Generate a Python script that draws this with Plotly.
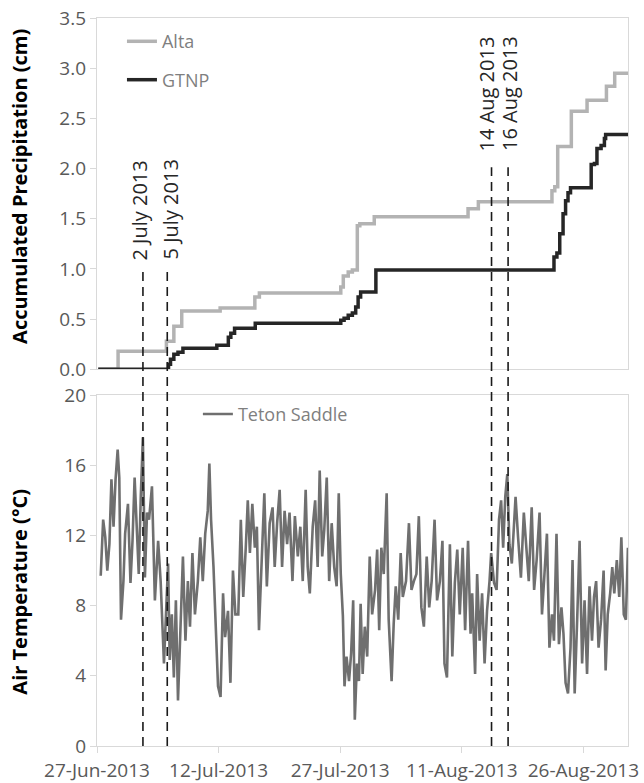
import pandas as pd
import plotly.graph_objects as go

# ---------------- data ----------------
start_date = "2013-06-27"
end_day = 65.5

alta_days = [0.15, 2.6, 8.56, 9.48, 10.45, 15.19, 19.47, 20.03, 30.07, 30.38, 30.99, 31.50,
             32.11, 32.42, 34.20, 45.77, 47.04, 56.12, 56.47, 56.83, 58.51, 60.45, 62.84, 63.86, 65.5]
alta_values = [0, 0.18, 0.28, 0.43, 0.58, 0.61, 0.72, 0.76, 0.82, 0.93, 0.97, 0.99,
               1.43, 1.45, 1.52, 1.60, 1.67, 1.78, 1.82, 2.22, 2.57, 2.68, 2.82, 2.95, 2.95]

gtnp_days = [0.15, 8.56, 8.82, 9.07, 9.48, 9.99, 10.60, 14.78, 16.20, 16.51, 16.97, 19.52,
             30.07, 30.48, 30.99, 31.50, 31.91, 32.21, 32.52, 34.40, 56.37, 56.73, 57.08,
             57.49, 57.80, 58.10, 58.41, 60.96, 61.36, 61.67, 62.18, 62.59, 62.74, 65.5]
gtnp_values = [0, 0, 0.05, 0.10, 0.15, 0.17, 0.21, 0.24, 0.32, 0.36, 0.41, 0.46,
               0.49, 0.51, 0.54, 0.56, 0.62, 0.72, 0.77, 0.99, 1.12, 1.16, 1.35,
               1.55, 1.68, 1.76, 1.81, 2.04, 2.05, 2.20, 2.23, 2.30, 2.34, 2.34]

temp_days = [0.46, 0.76, 1.02, 1.27, 1.53, 1.78, 2.04, 2.29, 2.55, 2.75, 2.96, 3.26, 3.47, 3.82,
             4.13, 4.38, 4.64, 4.89, 5.15, 5.40, 5.66, 5.91, 6.17, 6.42, 6.78, 7.14, 7.54, 7.85,
             8.26, 8.51, 8.77, 8.97, 9.23, 9.48, 9.73, 9.99, 10.24, 10.60, 10.91, 11.21, 11.47,
             11.77, 12.08, 12.44, 12.74, 13.05, 13.35, 13.66, 13.86, 14.07, 14.37, 14.68, 14.93,
             15.24, 15.55, 15.80, 16.16, 16.46, 16.77, 17.07, 17.43, 17.74, 18.04, 18.35, 18.60,
             18.86, 19.16, 19.47, 19.72, 19.98, 20.29, 20.64, 20.95, 21.30, 21.66, 21.92, 22.22,
             22.53, 22.83, 23.14, 23.45, 23.75, 24.11, 24.41, 24.77, 25.08, 25.38, 25.74, 25.99,
             26.25, 26.61, 26.91, 27.22, 27.47, 27.78, 28.03, 28.34, 28.64, 28.95, 29.26, 29.56,
             29.82, 30.07, 30.33, 30.53, 30.78, 31.09, 31.35, 31.60, 31.80, 32.06, 32.31, 32.52,
             32.77, 33.03, 33.33, 33.64, 33.94, 34.30, 34.56, 34.81, 35.07, 35.37, 35.73, 35.98,
             36.34, 36.60, 36.85, 37.16, 37.46, 37.72, 38.12, 38.48, 38.79, 39.09, 39.40, 39.70,
             40.01, 40.32, 40.67, 40.98, 41.28, 41.64, 41.95, 42.30, 42.61, 42.86, 43.17, 43.53,
             43.83, 44.14, 44.44, 44.75, 45.11, 45.41, 45.77, 46.08, 46.28, 46.64, 46.89, 47.20,
             47.50, 47.81, 48.11, 48.42, 48.62, 48.98, 49.29, 49.59, 49.85, 50.10, 50.36, 50.61,
             50.87, 51.17, 51.38, 51.63, 51.94, 52.29, 52.65, 52.96, 53.26, 53.62, 53.92, 54.23,
             54.59, 54.89, 55.20, 55.50, 55.81, 56.12, 56.37, 56.68, 56.98, 57.29, 57.54, 57.80,
             58.10, 58.41, 58.66, 58.92, 59.23, 59.53, 59.84, 60.14, 60.45, 60.75, 61.06, 61.31,
             61.57, 61.87, 62.18, 62.49, 62.74, 63.00, 63.30, 63.56, 63.81, 64.12, 64.42, 64.68,
             64.98, 65.24, 65.49, 65.70, 65.85]
temp_values = [9.7, 12.9, 11.9, 10.0, 11.5, 15.2, 12.5, 15.2, 16.9, 15.3, 7.2, 9.4, 12.1, 13.8,
               9.3, 11.7, 15.3, 12.3, 9.8, 14.2, 17.6, 9.6, 13.3, 12.9, 14.8, 8.3, 11.7, 9.4,
               4.7, 7.5, 10.4, 4.9, 7.5, 3.9, 8.3, 2.6, 6.0, 10.8, 6.0, 9.4, 6.8,
               11.0, 7.5, 9.4, 11.9, 9.4, 12.1, 13.4, 16.1, 12.9, 10.2, 6.0, 3.4,
               2.8, 8.7, 6.2, 7.7, 3.6, 10.0, 7.5, 7.5, 12.9, 8.5, 11.3, 14.0,
               11.0, 13.8, 11.3, 12.5, 6.6, 10.2, 14.4, 9.1, 12.7, 13.6, 10.2, 12.7,
               14.6, 10.2, 13.4, 11.5, 13.3, 9.4, 13.1, 10.8, 12.5, 9.4, 14.6, 10.2,
               8.7, 12.5, 14.0, 10.2, 15.7, 10.8, 12.3, 15.3, 9.4, 12.7, 10.2, 9.1,
               14.4, 9.8, 7.4, 3.4, 5.1, 3.7, 5.3, 8.3, 1.5, 4.7, 3.7, 8.1,
               4.1, 6.8, 5.1, 10.8, 7.5, 8.9, 11.2, 6.6, 11.3, 9.8, 14.4, 7.2,
               3.7, 7.0, 9.1, 7.2, 11.0, 8.5, 9.4, 12.7, 8.9, 9.4, 9.8, 13.1,
               7.9, 6.8, 10.8, 7.9, 9.4, 12.9, 8.3, 9.4, 11.7, 4.7, 3.9, 11.5,
               5.1, 9.3, 11.2, 7.5, 11.3, 6.6, 11.7, 6.4, 8.7, 4.1, 9.8, 6.0,
               8.7, 4.7, 7.7, 9.4, 11.0, 9.3, 8.9, 12.9, 14.0, 11.3, 14.2, 15.5,
               11.5, 10.4, 12.1, 14.2, 11.9, 9.6, 13.3, 11.3, 9.4, 13.6, 8.9, 10.6,
               13.3, 7.5, 10.2, 12.1, 5.6, 7.5, 6.0, 12.1, 5.8, 7.9, 6.4, 3.6,
               3.0, 5.6, 10.6, 3.0, 7.2, 11.7, 4.7, 8.3, 4.1, 9.1, 6.0, 8.5,
               9.4, 5.6, 7.2, 10.0, 4.3, 7.5, 8.7, 10.2, 8.7, 10.6, 8.5, 11.9,
               7.5, 7.2, 11.3, 9.4, 9.1]

event_dates = ["2013-07-02 16:00", "2013-07-05 16:00", "2013-08-14 16:00", "2013-08-16 17:00"]
event_labels = ["2 July 2013", "5 July 2013", "14 Aug 2013", "16 Aug 2013"]
event_line_tops = [0.654, 0.654, 0.795, 0.795]      # paper fraction where the dashes begin
event_label_bottoms = [0.664, 0.666, 0.814, 0.814]   # paper fraction for the label base
event_label_shifts = [-3, 3, -5, 2]

tick_step_days = 15

# ---------------- helpers ----------------
t0 = pd.Timestamp(start_date)
to_dt = lambda days: [t0 + pd.Timedelta(days=d) for d in days]

FONT = "Open Sans, Segoe UI, Arial, sans-serif"
AXIS_GRAY = "#d9d9d9"
TICK_TEXT = "#595959"
TICK_SIZE = 19

fig = go.Figure()

fig.add_trace(go.Scatter(x=to_dt(alta_days), y=alta_values, mode="lines", name="Alta",
                         line=dict(color="#b3b3b3", width=3.5, shape="hv"),
                         xaxis="x", yaxis="y", legend="legend", legendgroup="a"))
fig.add_trace(go.Scatter(x=to_dt(gtnp_days), y=gtnp_values, mode="lines", name="GTNP",
                         line=dict(color="#262626", width=3.5, shape="hv"),
                         xaxis="x", yaxis="y", legend="legend", legendgroup="b"))
fig.add_trace(go.Scatter(x=to_dt(temp_days), y=temp_values, mode="lines", name="Teton Saddle",
                         line=dict(color="#6f6f6f", width=2.6),
                         xaxis="x2", yaxis="y2", legend="legend2"))

x_range = [t0, t0 + pd.Timedelta(days=end_day)]

for d, top, lab, lb, sh in zip(event_dates, event_line_tops, event_labels,
                               event_label_bottoms, event_label_shifts):
    fig.add_shape(type="line", xref="x2", yref="paper", x0=d, x1=d, y0=0, y1=top,
                  line=dict(color="#1a1a1a", width=1.6, dash="9px,6px"))
    fig.add_annotation(x=d, xref="x2", y=lb, yref="paper", text=lab, textangle=-90,
                       showarrow=False, xanchor="center", yanchor="bottom", xshift=sh,
                       font=dict(family=FONT, size=20, color="#262626"))

axis_common = dict(showgrid=False, zeroline=False, showline=True, linecolor=AXIS_GRAY,
                   linewidth=1.3, mirror=True, automargin=False)

fig.update_layout(
    template="none",
    width=644, height=783,
    margin=dict(l=97, r=16, t=18, b=37, autoexpand=False),
    paper_bgcolor="white", plot_bgcolor="white",
    font=dict(family=FONT, size=TICK_SIZE, color=TICK_TEXT),
    xaxis=dict(domain=[0, 1], anchor="y", range=x_range, showticklabels=False, ticks="",
               matches="x2", **axis_common),
    yaxis=dict(domain=[0.5174, 1], anchor="x", range=[0, 3.5], dtick=0.5, tickformat=".1f",
               ticks="outside", ticklen=6, tickcolor=AXIS_GRAY,
               tickfont=dict(size=TICK_SIZE, color=TICK_TEXT), **axis_common),
    xaxis2=dict(domain=[0, 1], anchor="y2", range=x_range, tick0=start_date,
                dtick=tick_step_days * 86400000, tickformat="%d-%b-%Y",
                ticks="outside", ticklen=6, tickcolor=AXIS_GRAY, ticklabelstandoff=1,
                tickfont=dict(size=TICK_SIZE, color=TICK_TEXT), **axis_common),
    yaxis2=dict(domain=[0, 0.482], anchor="x2", range=[0, 20], dtick=4,
                ticks="outside", ticklen=6, tickcolor=AXIS_GRAY,
                tickfont=dict(size=TICK_SIZE, color=TICK_TEXT), **axis_common),
    legend=dict(x=0.047, y=0.993, xanchor="left", yanchor="top", bgcolor="rgba(0,0,0,0)",
                font=dict(size=18, color="#7f7f7f"), traceorder="grouped",
                tracegroupgap=12, itemwidth=30),
    legend2=dict(x=0.19, y=0.481, xanchor="left", yanchor="top", bgcolor="rgba(0,0,0,0)",
                 font=dict(size=18, color="#7f7f7f"), itemwidth=30),
    showlegend=True,
)

fig.add_annotation(text="<b>Accumulated Precipitation (cm)</b>", xref="paper", yref="paper",
                   x=-0.145, y=0.768, textangle=-90, showarrow=False,
                   xanchor="center", yanchor="middle",
                   font=dict(family=FONT, size=20, color="#000000"))
fig.add_annotation(text="<b>Air Temperature (°C)</b>", xref="paper", yref="paper",
                   x=-0.145, y=0.212, textangle=-90, showarrow=False,
                   xanchor="center", yanchor="middle",
                   font=dict(family=FONT, size=20, color="#000000"))

fig.write_html("out.html", config={"displayModeBar": False},
               post_script="document.body.style.margin='0';")
